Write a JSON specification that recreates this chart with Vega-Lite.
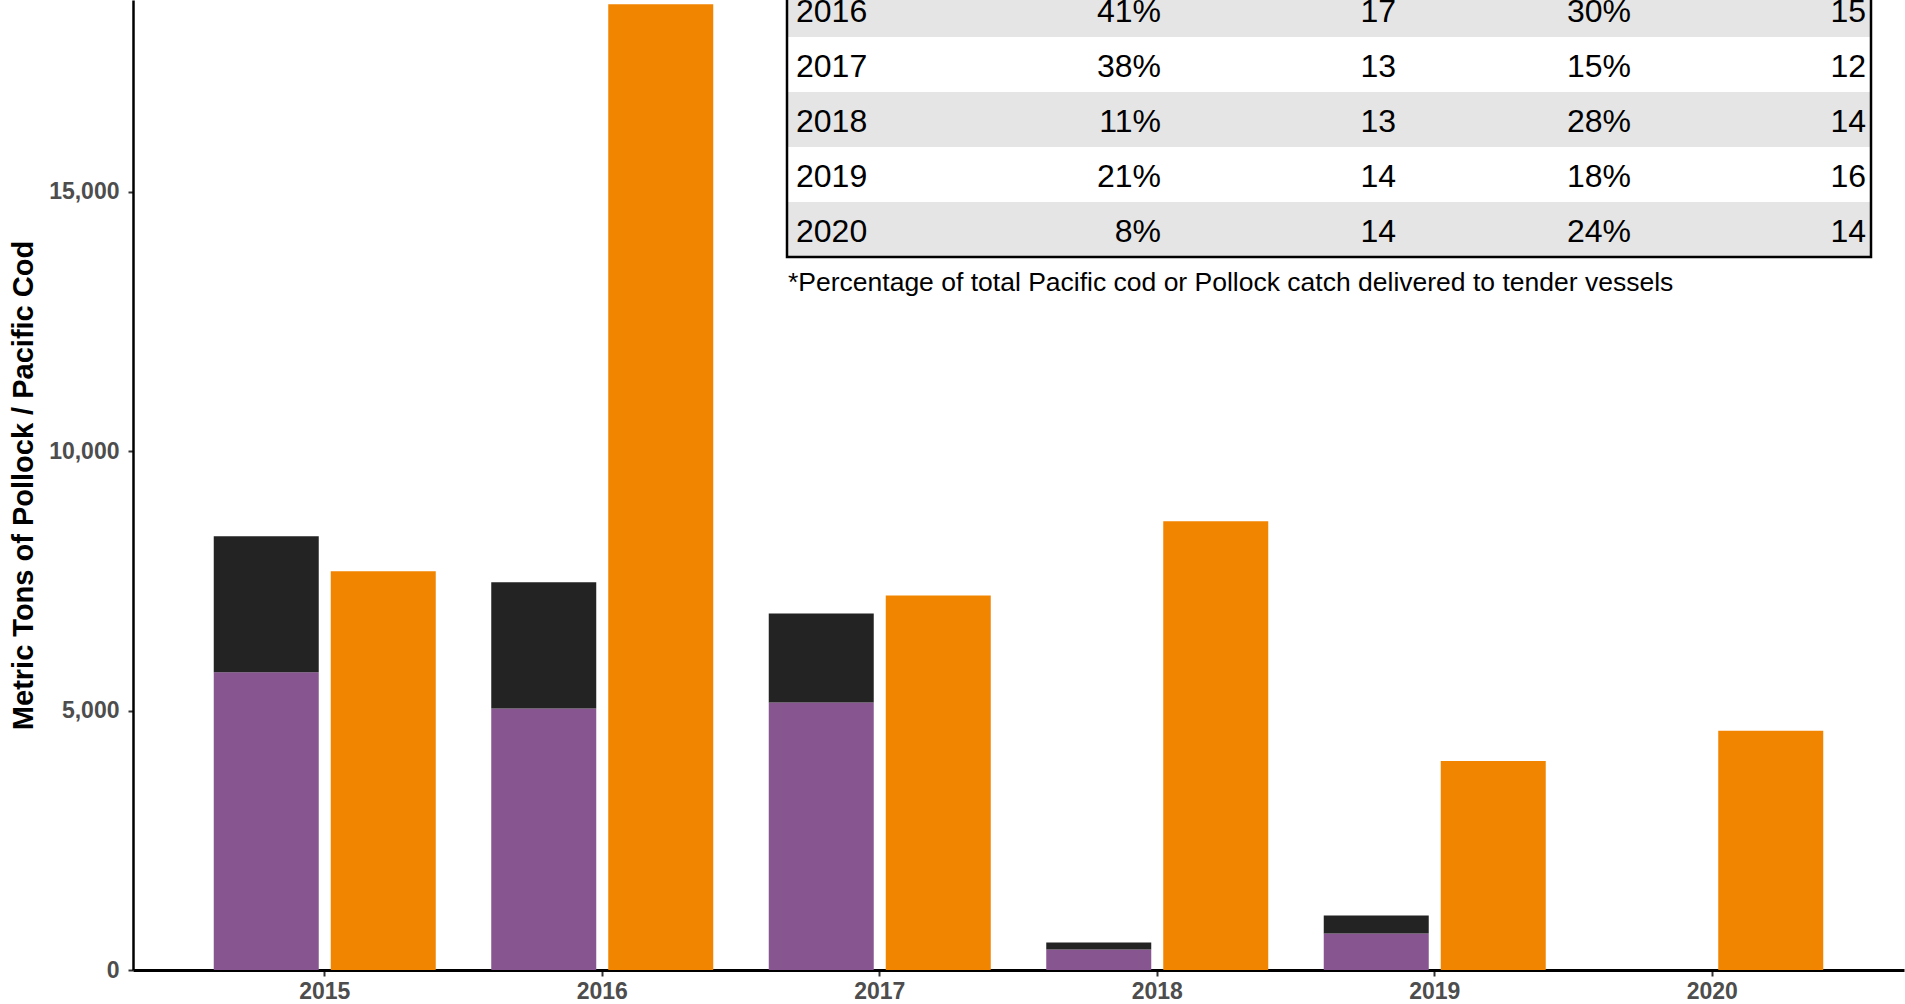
{
  "$schema": "https://vega.github.io/schema/vega-lite/v6.json",
  "autosize": {"type": "none"},
  "padding": {"left": 133, "top": 0, "right": 1, "bottom": 34},
  "width": 1771,
  "height": 970,
  "background": "white",
  "config": {"font": "Liberation Sans", "view": {"stroke": null}},
  "datasets": {
    "catch": [
      {"year": "2015", "species": "Pacific cod", "series": "Pacific cod (shoreside)", "tons": 5740},
      {"year": "2015", "species": "Pacific cod", "series": "Pacific cod (tender)", "tons": 2620},
      {"year": "2015", "species": "Pollock", "series": "Pollock", "tons": 7685},
      {"year": "2016", "species": "Pacific cod", "series": "Pacific cod (shoreside)", "tons": 5043},
      {"year": "2016", "species": "Pacific cod", "series": "Pacific cod (tender)", "tons": 2430},
      {"year": "2016", "species": "Pollock", "series": "Pollock", "tons": 18620},
      {"year": "2017", "species": "Pacific cod", "series": "Pacific cod (shoreside)", "tons": 5159},
      {"year": "2017", "species": "Pacific cod", "series": "Pacific cod (tender)", "tons": 1716},
      {"year": "2017", "species": "Pollock", "series": "Pollock", "tons": 7222},
      {"year": "2018", "species": "Pacific cod", "series": "Pacific cod (shoreside)", "tons": 395},
      {"year": "2018", "species": "Pacific cod", "series": "Pacific cod (tender)", "tons": 135},
      {"year": "2018", "species": "Pollock", "series": "Pollock", "tons": 8649},
      {"year": "2019", "species": "Pacific cod", "series": "Pacific cod (shoreside)", "tons": 704},
      {"year": "2019", "species": "Pacific cod", "series": "Pacific cod (tender)", "tons": 347},
      {"year": "2019", "species": "Pollock", "series": "Pollock", "tons": 4027},
      {"year": "2020", "species": "Pollock", "series": "Pollock", "tons": 4610}
    ],
    "table": [
      {"Year": "2016", "cod_pct": "41%", "cod_n": "17", "pol_pct": "30%", "pol_n": "15"},
      {"Year": "2017", "cod_pct": "38%", "cod_n": "13", "pol_pct": "15%", "pol_n": "12"},
      {"Year": "2018", "cod_pct": "11%", "cod_n": "13", "pol_pct": "28%", "pol_n": "14"},
      {"Year": "2019", "cod_pct": "21%", "cod_n": "14", "pol_pct": "18%", "pol_n": "16"},
      {"Year": "2020", "cod_pct": "8%", "cod_n": "14", "pol_pct": "24%", "pol_n": "14"}
    ],
    "note": [
      {"note": "*Percentage of total Pacific cod or Pollock catch delivered to tender vessels"}
    ]
  },
  "layer": [
    {
      "data": {"name": "catch"},
      "mark": {"type": "bar"},
      "encoding": {
        "x": {
          "field": "year", "type": "nominal",
          "scale": {"paddingInner": 0.2, "paddingOuter": 0.291},
          "axis": {
            "title": null, "labelAngle": 0, "domainColor": "black", "domainWidth": 3,
            "tickColor": "#333333", "tickWidth": 2, "tickSize": 6, "labelPadding": 4,
            "labelFontWeight": "bold", "labelFontSize": 23, "labelColor": "#4d4d4d"
          }
        },
        "xOffset": {
          "field": "species", "type": "nominal",
          "scale": {"domain": ["Pacific cod", "Pollock"], "paddingInner": 0.1026, "paddingOuter": 0}
        },
        "y": {
          "field": "tons", "type": "quantitative", "stack": "zero",
          "scale": {"domain": [0, 18700], "nice": false},
          "axis": {
            "values": [0, 5000, 10000, 15000], "format": ",.0f", "grid": false,
            "domainColor": "black", "domainWidth": 2.5,
            "tickColor": "#333333", "tickWidth": 2, "tickSize": 5, "labelPadding": 9,
            "labelFontWeight": "bold", "labelFontSize": 23, "labelColor": "#4d4d4d",
            "title": "Metric Tons of Pollock / Pacific Cod", "titleFontSize": 29,
            "titleFontWeight": "bold", "titleColor": "black", "titlePadding": 10
          }
        },
        "color": {
          "field": "series", "type": "nominal",
          "scale": {
            "domain": ["Pacific cod (shoreside)", "Pacific cod (tender)", "Pollock"],
            "range": ["#87558f", "#232323", "#f28500"]
          },
          "legend": null
        },
        "order": {"field": "series", "sort": "ascending"}
      }
    },
    {
      "data": {"name": "table"},
      "transform": [{"filter": {"field": "Year", "oneOf": ["2016", "2018", "2020"]}}],
      "mark": {"type": "rect", "color": "#e5e5e5"},
      "encoding": {
        "y": {
          "field": "Year", "type": "nominal",
          "scale": {"domain": ["2016", "2017", "2018", "2019", "2020"], "range": [-18, 257], "paddingInner": 0, "paddingOuter": 0},
          "axis": null
        },
        "x": {"datum": 0, "type": "quantitative", "scale": {"domain": [0, 1], "range": [654, 1738]}, "axis": null},
        "x2": {"datum": 1}
      }
    },
    {
      "data": {"name": "table"},
      "mark": {"type": "text", "align": "left", "baseline": "middle", "dy": 2, "fontSize": 32, "color": "black"},
      "encoding": {
        "y": {
          "field": "Year", "type": "nominal",
          "scale": {"domain": ["2016", "2017", "2018", "2019", "2020"], "range": [-18, 257], "paddingInner": 0, "paddingOuter": 0},
          "axis": null
        },
        "x": {"datum": 0, "type": "quantitative", "scale": {"domain": [0, 1], "range": [663, 1738]}, "axis": null},
        "text": {"field": "Year"}
      }
    },
    {
      "data": {"name": "table"},
      "transform": [{"fold": ["cod_pct", "cod_n", "pol_pct", "pol_n"], "as": ["column", "cell"]}],
      "mark": {"type": "text", "align": "right", "baseline": "middle", "dy": 2, "fontSize": 32, "color": "black"},
      "encoding": {
        "y": {
          "field": "Year", "type": "nominal",
          "scale": {"domain": ["2016", "2017", "2018", "2019", "2020"], "range": [-18, 257], "paddingInner": 0, "paddingOuter": 0},
          "axis": null
        },
        "x": {
          "field": "column", "type": "nominal",
          "scale": {"type": "point", "domain": ["cod_pct", "cod_n", "pol_pct", "pol_n"], "range": [1028, 1733], "padding": 0},
          "axis": null
        },
        "text": {"field": "cell"}
      }
    },
    {
      "data": {"name": "note"},
      "mark": {"type": "rect", "fill": "transparent", "stroke": "black", "strokeWidth": 2.5},
      "encoding": {
        "x": {"datum": 0, "type": "quantitative", "scale": {"domain": [0, 1], "range": [654, 1738]}, "axis": null},
        "x2": {"datum": 1},
        "y": {"datum": 0, "type": "quantitative", "scale": {"domain": [0, 1], "range": [-18, 257]}, "axis": null},
        "y2": {"datum": 1}
      }
    },
    {
      "data": {"name": "note"},
      "mark": {"type": "text", "align": "left", "baseline": "middle", "fontSize": 26.5, "color": "black"},
      "encoding": {
        "x": {"datum": 0, "type": "quantitative", "scale": {"domain": [0, 1], "range": [655, 1738]}, "axis": null},
        "y": {"datum": 0, "type": "quantitative", "scale": {"domain": [0, 1], "range": [283, 300]}, "axis": null},
        "text": {"field": "note"}
      }
    }
  ],
  "resolve": {"scale": {"x": "independent", "y": "independent"}}
}
